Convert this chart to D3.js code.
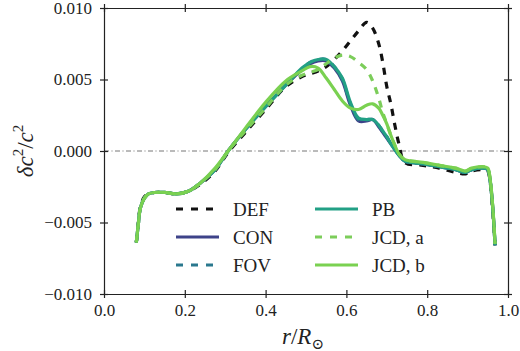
<!DOCTYPE html>
<html>
<head>
<meta charset="utf-8">
<script src="https://cdn.jsdelivr.net/npm/d3@7"></script>
<style>
  body { margin: 0; background: #fff; }
  svg { display: block; }
  svg text { font-family: "Liberation Serif", "DejaVu Serif", "Noto Sans", sans-serif; fill: #222; }
  .axis text { font-size: 17px; }
  .axis path, .axis line { stroke: #222; stroke-width: 1.2; }
</style>
</head>
<body>
<div id="chart"></div>
<script>
// radius grid shared by all profiles
var radius = [0.08, 0.085, 0.09, 0.10, 0.11, 0.125, 0.15, 0.18, 0.21, 0.24, 0.275, 0.31, 0.35,
  0.40, 0.45, 0.49, 0.51, 0.53, 0.55, 0.57, 0.59, 0.61, 0.63, 0.65, 0.665, 0.68, 0.69, 0.70,
  0.71, 0.72, 0.73, 0.745, 0.79, 0.83, 0.87, 0.895, 0.91, 0.94, 0.95, 0.955, 0.962, 0.968];

var defValues = [-0.0064, -0.0050, -0.0039, -0.0032, -0.0030, -0.0029, -0.0029, -0.0030, -0.0028, -0.0023, -0.0014, 0.0000, 0.0013,
  0.0029, 0.0045, 0.0052, 0.0054, 0.0056, 0.0059, 0.0064, 0.0070, 0.0077, 0.0084, 0.0090, 0.0086, 0.0075, 0.0062, 0.0045,
  0.0033, 0.0018, 0.0005, -0.0008, -0.0010, -0.0012, -0.0015, -0.0016, -0.0014, -0.0013, -0.0014, -0.0020, -0.0041, -0.0066];

var conValues = [-0.0064, -0.0051, -0.0040, -0.0033, -0.0030, -0.0029, -0.0029, -0.0030, -0.0028, -0.0022, -0.0013, 0.0001, 0.0015,
  0.0031, 0.0046, 0.0057, 0.0061, 0.0063, 0.0063, 0.0058, 0.0049, 0.0032, 0.0021, 0.0021, 0.0022, 0.0017, 0.0013, 0.0009,
  0.0005, 0.0001, -0.0003, -0.0007, -0.0009, -0.0011, -0.0013, -0.0015, -0.0013, -0.0012, -0.0013, -0.0019, -0.0039, -0.0066];

var fovValues = [-0.0064, -0.0051, -0.0040, -0.0033, -0.0030, -0.0029, -0.0029, -0.0030, -0.0028, -0.0022, -0.0013, 0.0001, 0.0015,
  0.0031, 0.0046, 0.0057, 0.0062, 0.0064, 0.0064, 0.0059, 0.0050, 0.0033, 0.0022, 0.0022, 0.0022, 0.0018, 0.0014, 0.0010,
  0.0005, 0.0001, -0.0003, -0.0007, -0.0009, -0.0011, -0.0013, -0.0015, -0.0013, -0.0012, -0.0013, -0.0019, -0.0039, -0.0066];

var pbValues = [-0.0064, -0.0051, -0.0040, -0.0033, -0.0030, -0.0029, -0.0029, -0.0030, -0.0028, -0.0022, -0.0013, 0.0001, 0.0015,
  0.0031, 0.0046, 0.0058, 0.0062, 0.0064, 0.0064, 0.0059, 0.0051, 0.0034, 0.0023, 0.0022, 0.0022, 0.0018, 0.0014, 0.0010,
  0.0005, 0.0001, -0.0003, -0.0007, -0.0009, -0.0011, -0.0013, -0.0015, -0.0013, -0.0012, -0.0013, -0.0019, -0.0039, -0.0066];

var jcdaValues = [-0.0064, -0.0051, -0.0040, -0.0033, -0.0030, -0.0029, -0.0029, -0.0030, -0.0028, -0.0022, -0.0013, 0.0001, 0.0014,
  0.0030, 0.0046, 0.0053, 0.0055, 0.0057, 0.0061, 0.0065, 0.0067, 0.0066, 0.0062, 0.0057, 0.0049, 0.0037, 0.0027, 0.0019,
  0.0011, 0.0004, -0.0002, -0.0006, -0.0008, -0.0010, -0.0012, -0.0014, -0.0012, -0.0011, -0.0012, -0.0018, -0.0038, -0.0065];

var jcdbValues = [-0.0064, -0.0051, -0.0040, -0.0033, -0.0030, -0.0029, -0.0029, -0.0030, -0.0028, -0.0022, -0.0012, 0.0001, 0.0016,
  0.0034, 0.0049, 0.0056, 0.0059, 0.0058, 0.0051, 0.0043, 0.0035, 0.0030, 0.0029, 0.0032, 0.0033, 0.0030, 0.0025, 0.0019,
  0.0011, 0.0004, -0.0002, -0.0006, -0.0008, -0.0010, -0.0012, -0.0014, -0.0012, -0.0011, -0.0012, -0.0018, -0.0038, -0.0065];

var seriesNames = ["DEF", "CON", "FOV", "PB", "JCD, a", "JCD, b"];
var seriesColors = ["#111111", "#3e4389", "#2a788e", "#22a085", "#7ccd5a", "#7ad151"];
var seriesDashed = [true, false, true, false, true, false];
var xTicks = [0.0, 0.2, 0.4, 0.6, 0.8, 1.0];
var yTicks = [-0.010, -0.005, 0.000, 0.005, 0.010];

(function() {
  var svg = d3.select("#chart").append("svg")
      .attr("width", 520)
      .attr("height", 351),
    margin = { top: 8, right: 12, bottom: 57, left: 104 },
    width = 520 - margin.left - margin.right,
    height = 351 - margin.top - margin.bottom,
    g = svg.append("g").attr("transform", "translate(" + margin.left + "," + margin.top + ")");

  var x = d3.scaleLinear().domain([0, 1]).range([0, width]);
  var y = d3.scaleLinear().domain([-0.010, 0.010]).range([height, 0]);

  var allValues = [defValues, conValues, fovValues, pbValues, jcdaValues, jcdbValues];

  // zero reference line
  g.append("line")
    .attr("x1", 0).attr("x2", width)
    .attr("y1", y(0)).attr("y2", y(0))
    .attr("stroke", "#777")
    .attr("stroke-width", 1)
    .attr("stroke-dasharray", "5,2.5,1,2.5");

  var line = d3.line()
    .x(function(d) { return x(d[0]); })
    .y(function(d) { return y(d[1]); })
    .curve(d3.curveCatmullRom.alpha(0.5));

  allValues.forEach(function(vals, i) {
    var pts = radius.map(function(r, k) { return [r, vals[k]]; });
    g.append("path")
      .datum(pts)
      .attr("fill", "none")
      .attr("stroke", seriesColors[i])
      .attr("stroke-width", 3.2)
      .attr("stroke-dasharray", seriesDashed[i] ? "7,7" : null)
      .attr("stroke-linejoin", "round")
      .attr("d", line);
  });

  // axes, ticks crossing the spines
  var bottom = g.append("g").attr("class", "axis")
    .attr("transform", "translate(0," + height + ")")
    .call(d3.axisBottom(x).tickValues(xTicks).tickFormat(d3.format(".1f")).tickSize(4).tickSizeOuter(0).tickPadding(6));
  bottom.selectAll(".tick line").attr("y1", -4);

  var top = g.append("g").attr("class", "axis")
    .call(d3.axisTop(x).tickValues(xTicks).tickFormat("").tickSize(4).tickSizeOuter(0));
  top.selectAll(".tick line").attr("y1", 4);

  var left = g.append("g").attr("class", "axis")
    .call(d3.axisLeft(y).tickValues(yTicks).tickFormat(d3.format(".3f")).tickSize(4).tickSizeOuter(0).tickPadding(8));
  left.selectAll(".tick line").attr("x1", 4);

  var right = g.append("g").attr("class", "axis")
    .attr("transform", "translate(" + width + ",0)")
    .call(d3.axisRight(y).tickValues(yTicks).tickFormat("").tickSize(4).tickSizeOuter(0));
  right.selectAll(".tick line").attr("x1", -4);

  // legend
  var legend = svg.append("g");
  seriesNames.forEach(function(name, i) {
    var col = Math.floor(i / 3), row = i % 3;
    var lx = 176 + col * 139, ly = 209 + row * 28;
    legend.append("line")
      .attr("x1", lx).attr("x2", lx + 43)
      .attr("y1", ly).attr("y2", ly)
      .attr("stroke", seriesColors[i])
      .attr("stroke-width", 3.2)
      .attr("stroke-dasharray", seriesDashed[i] ? "7,8" : null);
    legend.append("text")
      .attr("x", lx + 57).attr("y", ly + 7)
      .attr("font-size", 19)
      .text(name);
  });

  // axis labels
  var xl = svg.append("text")
    .attr("x", 303).attr("y", 344)
    .attr("text-anchor", "middle")
    .attr("font-size", 23);
  xl.append("tspan").attr("font-style", "italic").text("r");
  xl.append("tspan").text("/");
  xl.append("tspan").attr("font-style", "italic").text("R");
  xl.append("tspan").attr("font-size", 15).attr("dy", 5).text("⊙");

  var yl = svg.append("text")
    .attr("transform", "translate(33,151) rotate(-90)")
    .attr("text-anchor", "middle")
    .attr("font-size", 23);
  yl.append("tspan").attr("font-style", "italic").text("δc");
  yl.append("tspan").attr("font-size", 15).attr("dy", -10).text("2");
  yl.append("tspan").attr("dy", 10).text("/");
  yl.append("tspan").attr("font-style", "italic").text("c");
  yl.append("tspan").attr("font-size", 15).attr("dy", -10).text("2");
})();
</script>
</body>
</html>
